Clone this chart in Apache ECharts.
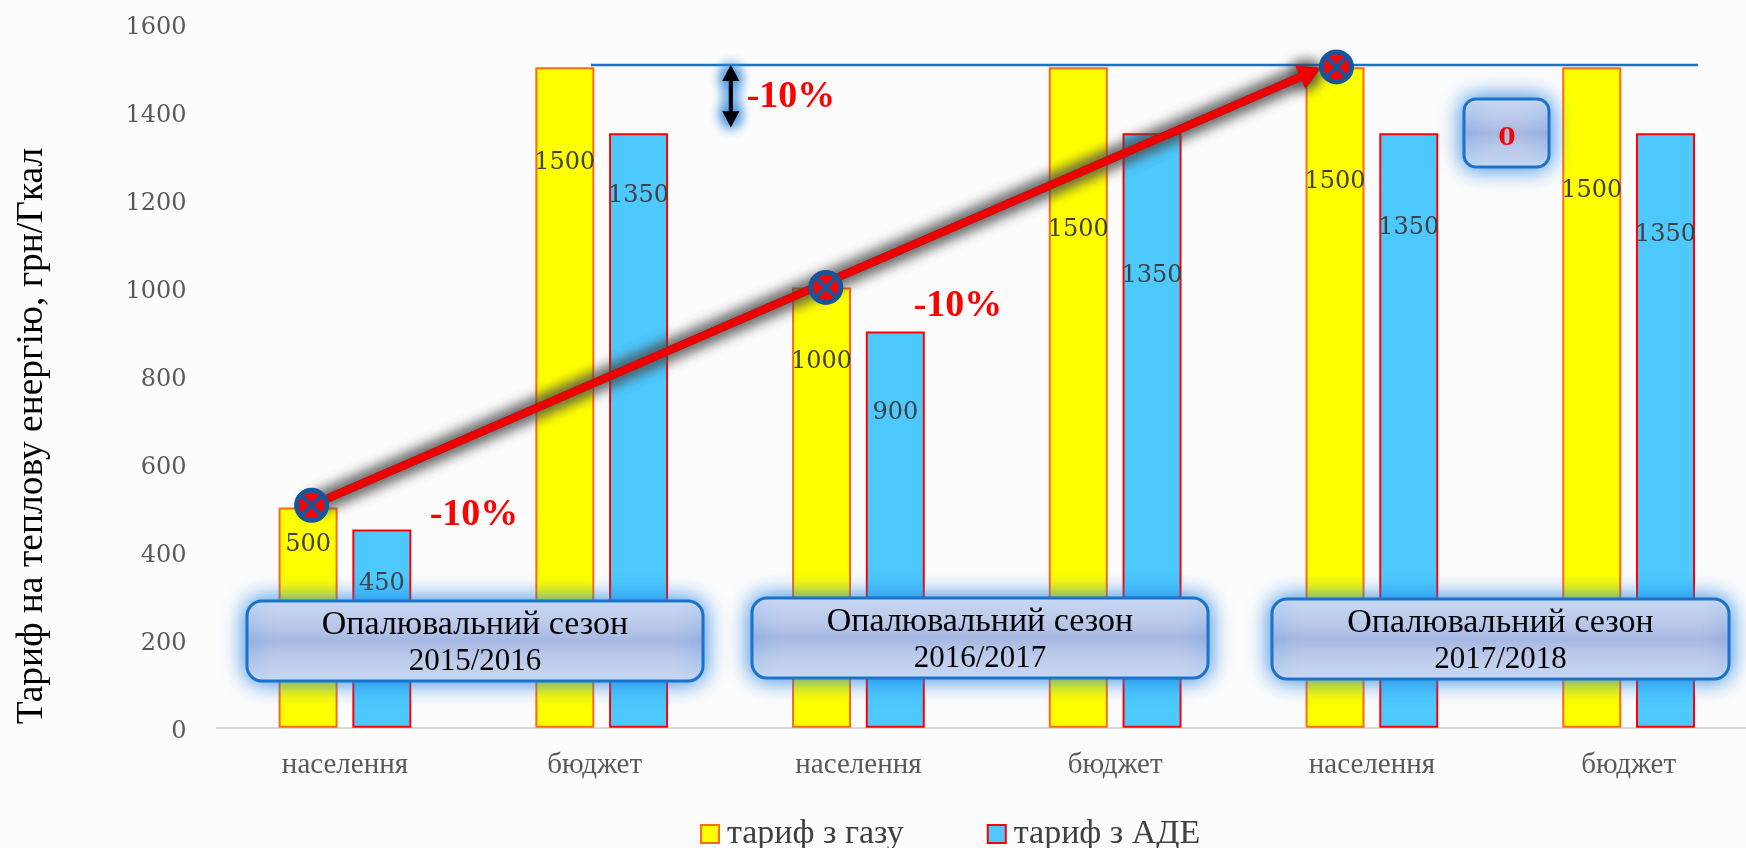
<!DOCTYPE html>
<html><head><meta charset="utf-8">
<style>html,body{margin:0;padding:0;background:#fcfcfc}#c{width:1746px;height:848px}</style>
<script src="https://cdn.jsdelivr.net/npm/echarts@6/dist/echarts.min.js"></script>
</head><body><div id="c"></div>
<script>
const categories = ['населення','бюджет','населення','бюджет','населення','бюджет'];
const gasTariff = [500,1500,1000,1500,1500,1500];
const adeTariff = [450,1350,900,1350,1350,1350];
const seasons = [['Опалювальний сезон','2015/2016'],['Опалювальний сезон','2016/2017'],['Опалювальний сезон','2017/2018']];
const trendX = [0.37,2.373,4.362];
const trendY = [505,1000,1501];
const arrowEnd = [4.3,1498];
const capLineX = [1.458,5.77];
const capLineY = 1505;
const gapArrowX = 2.003;
const gapArrowY = [1505,1364];
// label offset below the top of each bar, in pixels
const gasLabelDrop = [34,92,71,159,111,120];
const adeLabelDrop = [51,59,78,139,91,98];

const SERIF = '"Liberation Serif"';
const NUM = '"DejaVu Serif"';
const chart = echarts.init(document.getElementById('c'), null, {renderer:'canvas'});

function arrowRender(double, width, headW, headL, fill, glow, blur, layers){
  return function(params, api){
    const a = api.coord([api.value(0), api.value(1)]);
    const b = api.coord([api.value(2), api.value(3)]);
    const dx=b[0]-a[0], dy=b[1]-a[1], L=Math.hypot(dx,dy), ux=dx/L, uy=dy/L, nx=-uy, ny=ux;
    const P=(t,s)=>[a[0]+ux*t+nx*s, a[1]+uy*t+ny*s];
    const pts=[];
    if(double){ pts.push(P(0,0),P(headL,headW/2),P(headL,width/2)); }
    else { pts.push(P(0,width/2)); }
    pts.push(P(L-headL,width/2),P(L-headL,headW/2),P(L,0),P(L-headL,-headW/2),P(L-headL,-width/2));
    if(double){ pts.push(P(headL,-width/2),P(headL,-headW/2)); }
    else { pts.push(P(0,-width/2)); }
    const children=[];
    for(let i=0;i<layers;i++){
      children.push({type:'polygon',shape:{points:pts},style:{fill:glow,shadowColor:glow,shadowBlur:blur}});
    }
    children.push({type:'polygon',shape:{points:pts},style:{fill:fill}});
    return {type:'group',children:children};
  };
}

function markerRender(params, api){
  const c = api.coord([api.value(0), api.value(1)]);
  const r = 15, k = r*0.72;
  return {type:'group',children:[
    {type:'circle',shape:{cx:c[0],cy:c[1],r:r},style:{fill:'#ff0000',stroke:'#17569b',lineWidth:5}},
    {type:'line',shape:{x1:c[0]-k,y1:c[1]-k,x2:c[0]+k,y2:c[1]+k},style:{stroke:'#17569b',lineWidth:4}},
    {type:'line',shape:{x1:c[0]-k,y1:c[1]+k,x2:c[0]+k,y2:c[1]-k},style:{stroke:'#17569b',lineWidth:4}}
  ]};
}

function boxGraphic(x,y,w,h,r){
  return {type:'rect',z:60,shape:{x:x,y:y,width:w,height:h,r:r},style:{
    fill:new echarts.graphic.LinearGradient(0,0,0,1,[
      {offset:0,color:'#e0e6f6'},{offset:0.5,color:'#a5b8e3'},{offset:1,color:'#e0e6f6'}]),
    stroke:'#1a72c9',lineWidth:3,shadowColor:'rgba(30,125,225,0.95)',shadowBlur:22}};
}
function txt(t,x,y,size,fill,extra){
  return {type:'text',z:61,x:x,y:y,rotation:(extra&&extra.rotation)||0,style:{text:t,fill:fill,
    font:((extra&&extra.bold)?'bold ':'')+size+'px '+((extra&&extra.family)||SERIF),align:'center',verticalAlign:'middle'}};
}

const boxes = [[247,601,456,80],[752,598,456,80],[1272,599,457,80]];
const graphics = [];
boxes.forEach((b,i)=>{
  graphics.push(boxGraphic(b[0],b[1],b[2],b[3],15));
  graphics.push(txt(seasons[i][0],b[0]+b[2]/2,b[1]+24,34,'#000'));
  graphics.push(txt(seasons[i][1],b[0]+b[2]/2,b[1]+61,31,'#000'));
});
graphics.push(boxGraphic(1464,99,85,68,12));
graphics.push(txt('0',1507,138,25,'#ff0000',{bold:true,family:NUM}));
graphics.push(txt('-10%',474,515,38,'#ff0000',{bold:true}));
graphics.push(txt('-10%',958,306,38,'#ff0000',{bold:true}));
graphics.push(txt('-10%',791,97,38,'#ff0000',{bold:true}));
graphics.push(txt('Тариф на теплову енергію, грн/Гкал',32,436,37.5,'#000',{rotation:Math.PI/2}));

function barItems(vals,drops){
  return vals.map((v,i)=>({value:v,label:{offset:[0,drops[i]-9]}}));
}
const barLabel = {show:true,position:'insideTop',distance:0,color:'#404040',fontFamily:NUM,fontSize:24};

chart.setOption({
  animation:false,
  backgroundColor:'#fcfcfc',
  grid:{left:216.6,top:23.3,right:-11,height:704.4,containLabel:false,outerBoundsMode:'none'},
  legend:{data:['тариф з газу','тариф з АДЕ'],left:695,top:812,itemWidth:18,itemHeight:18,itemGap:83,icon:'rect',
    textStyle:{fontFamily:SERIF,fontSize:34,color:'#404040',padding:[0,0,0,3]}},
  xAxis:[
    {type:'category',
     data:categories.map((c,i)=>i===1?{value:c,textStyle:{padding:[0,14,0,0]}}:c),
     axisTick:{show:false},
     axisLine:{lineStyle:{color:'#d9d9d9',width:2}},
     axisLabel:{fontFamily:SERIF,fontSize:29,color:'#595959',margin:23}},
    {type:'value',min:0,max:6,show:false}
  ],
  yAxis:{type:'value',min:0,max:1600,interval:200,splitLine:{show:false},axisLine:{show:false},axisTick:{show:false},
    axisLabel:{fontFamily:NUM,fontSize:24,color:'#595959',margin:30,verticalAlign:'top',lineHeight:8,formatter:v=>String(v)}},
  graphic:graphics,
  series:[
    {name:'тариф з газу',type:'bar',barWidth:59,barGap:'25%',data:barItems(gasTariff,gasLabelDrop),label:barLabel,
     itemStyle:{color:'#ffff00',borderColor:'#ff6a13',borderWidth:2}},
    {name:'тариф з АДЕ',type:'bar',barWidth:59,data:barItems(adeTariff,adeLabelDrop),label:barLabel,
     itemStyle:{color:'#4dc9ff',borderColor:'#ff0000',borderWidth:2}},
    {name:'cap',type:'line',xAxisIndex:1,symbol:'none',z:5,data:[[capLineX[0],capLineY],[capLineX[1],capLineY]],
     lineStyle:{color:'#1a72c9',width:2.5}},
    {name:'trendArrow',type:'custom',xAxisIndex:1,z:6,silent:true,clip:false,
     data:[[trendX[0],trendY[0],arrowEnd[0],arrowEnd[1]]],
     renderItem:arrowRender(false,8,25,22,'#ee0000','#4a4a4a',16,3)},
    {name:'gapArrow',type:'custom',xAxisIndex:1,z:6,silent:true,clip:false,
     data:[[gapArrowX,gapArrowY[0],gapArrowX,gapArrowY[1]]],
     renderItem:arrowRender(true,4,17,16,'#000000','#3f8fdd',14,4)},
    {name:'trendMarkers',type:'custom',xAxisIndex:1,z:7,silent:true,clip:false,
     data:trendX.map((x,i)=>[x,trendY[i]]),renderItem:markerRender}
  ]
});
</script></body></html>
